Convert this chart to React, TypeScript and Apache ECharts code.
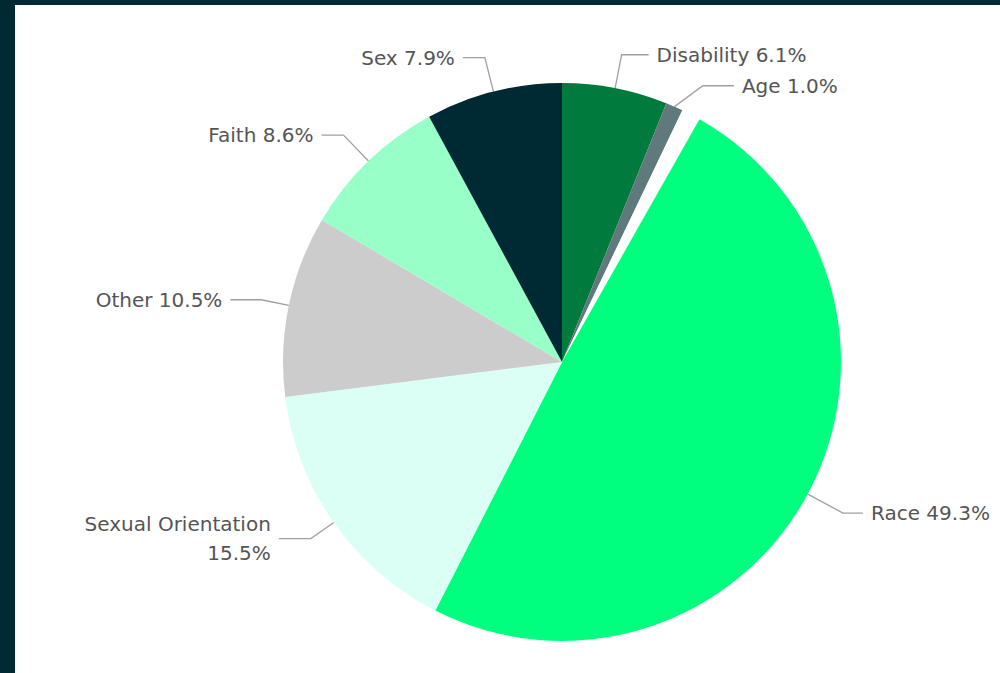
import React, { useEffect, useRef } from "react";
import * as echarts from "echarts";

const categories = ["Disability", "Age", "", "Race", "Sexual Orientation", "Other", "Faith", "Sex"];
const values = [6.1, 1.0, 1.1, 49.3, 15.5, 10.5, 8.6, 7.9];
const labels = ["Disability 6.1%", "Age 1.0%", "", "Race 49.3%", "Sexual Orientation\n15.5%", "Other 10.5%", "Faith 8.6%", "Sex 7.9%"];
const colors = ["#007a3d", "#5f797c", "#ffffff", "#00ff7f", "#dbfff4", "#cccccc", "#99ffc9", "#002a33"];
const lineLen1 = [34, 32, 0, 40, 28, 28, 36, 35];
const lineLen2 = [27, 31, 0, 20, 32, 31, 22, 22];

export default function App() {
  const ref = useRef<HTMLDivElement>(null);
  useEffect(() => {
    if (!ref.current) return;
    const chart = echarts.init(ref.current, null, { renderer: "svg" });
    const data = categories.map((name, i) => {
      const blank = name === "";
      return {
        name: blank ? "gap" : name,
        value: values[i],
        itemStyle: { color: colors[i] },
        label: blank ? { show: false } : { formatter: labels[i] },
        labelLine: blank ? { show: false } : { length: lineLen1[i], length2: lineLen2[i] },
        emphasis: { disabled: true },
      };
    });
    chart.setOption({
      animation: false,
      series: [
        {
          type: "pie",
          center: [547, 357],
          radius: 279,
          startAngle: 90,
          clockwise: true,
          avoidLabelOverlap: true,
          data,
          label: {
            show: true,
            position: "outside",
            fontFamily: "DejaVu Sans",
            fontSize: 20,
            color: "#555555",
            lineHeight: 29,
            distanceToLabelLine: 8,
          },
          labelLine: {
            show: true,
            length: 28,
            length2: 27,
            smooth: false,
            lineStyle: { color: "#a0a0a0", width: 1.3 },
          },
          itemStyle: { borderWidth: 0 },
        },
      ],
    });
    return () => chart.dispose();
  }, []);
  return (
    <div style={{ position: "fixed", left: 0, top: 0, width: 1000, height: 673, background: "#002a33" }}>
      <div
        ref={ref}
        style={{ position: "absolute", left: 15, top: 5, width: 985, height: 668, background: "#ffffff" }}
      />
    </div>
  );
}
